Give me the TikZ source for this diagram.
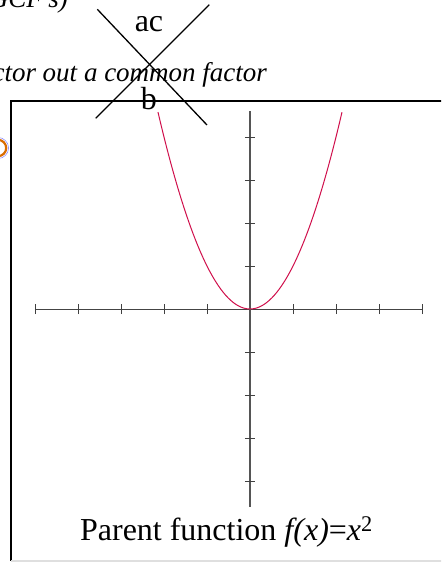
\documentclass[tikz,border=0pt]{standalone}
\usepackage{fontspec}
\setmainfont{Liberation Serif}
\usepackage{tikz}
\usetikzlibrary{calc}
\usepackage{xcolor}
\definecolor{curvered}{HTML}{D0104C}
\definecolor{axisgray}{HTML}{555555}

\begin{document}
\begin{tikzpicture}[x=43pt, y=43pt]
\clip (-5.814,7.186) rectangle (4.442,-5.884);
\fill[white] (-5.814,7.186) rectangle (4.442,-5.884);
% slide text behind the graph
\node[font=\fontsize{27}{30}\selectfont\itshape, anchor=base east, inner sep=0] (gcf) at (-4.233,7.0) {(GCF's)};
\node[font=\fontsize{27}{30}\selectfont\itshape, anchor=base east, inner sep=0] (factor) at (0.40,5.302) {ctor out a common factor};
\draw[orange!85!black, line width=2.2pt] (-5.86,3.744) circle (0.19);
\draw[blue!50, line width=0.5pt] (-5.86,3.744) circle (0.245);
% graph frame
\draw[black, line width=1.6pt] (4.6,4.837) -| (-5.558,-5.86);
\draw[gray!25, line width=1.6pt] (-5.558,-5.86) -- (4.6,-5.86);
% axes
\draw[axisgray!80!black, line width=0.9pt] (-5,0) -- (4,0);
\draw[axisgray, line width=1.1pt] (0,-4.6) -- (0,4.6);
\foreach \t in {-5,-4,-3,-2,-1,1,2,3,4} \draw[black!75, line width=0.8pt] (\t,-0.12) -- (\t,0.12);
\foreach \t in {-4,-3,-2,-1,1,2,3,4} \draw[black!75, line width=0.8pt] (-0.12,\t) -- (0.12,\t);
\draw[curvered, line width=1pt, domain=-2.14:2.14, samples=80, smooth] plot (\x,{\x*\x});
% ac / b cross
\draw[black, line width=1.3pt] (-3.551,6.970) -- (-1.0,4.279);
\draw[black, line width=1.3pt] (-0.947,7.077) -- (-3.588,4.435);
\node[font=\fontsize{32}{36}\selectfont, anchor=base, inner sep=0] (ac) at (-2.349,6.449) {ac};
\node[font=\fontsize{32}{36}\selectfont, anchor=base, inner sep=0] (b) at (-2.349,4.628) {b};
\node[font=\fontsize{32}{36}\selectfont, anchor=base, inner sep=0] (caption) at (-0.547,-5.395) {Parent function \textit{f(x)}=\textit{x}\textsuperscript{2}};
\end{tikzpicture}
\end{document}
